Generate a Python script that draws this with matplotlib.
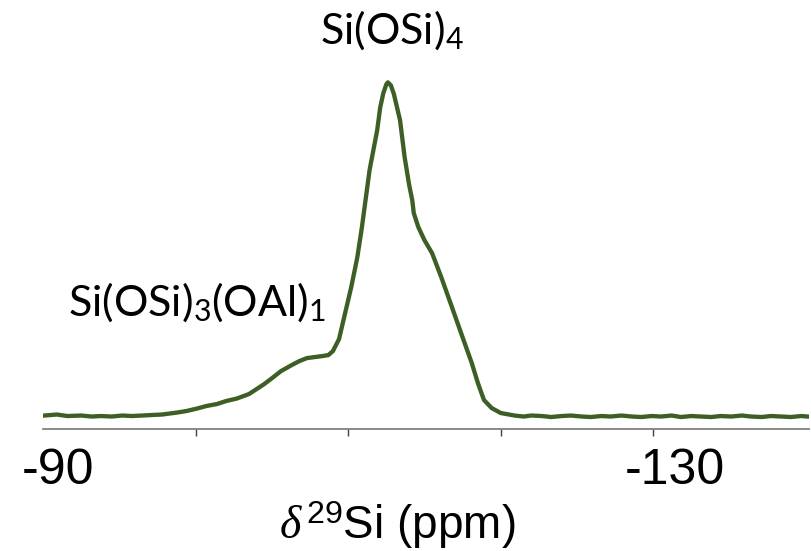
import matplotlib
matplotlib.use("Agg")
import matplotlib.pyplot as plt
from matplotlib import font_manager
from matplotlib.transforms import ScaledTranslation


def have_font(name):
    try:
        font_manager.findfont(name, fallback_to_default=False)
        return True
    except Exception:
        return False


sans = "Liberation Sans Narrow" if have_font("Liberation Sans Narrow") else "Liberation Sans"
label_font = "Lato"

plt.rcParams["mathtext.fontset"] = "custom"
plt.rcParams["mathtext.rm"] = sans
plt.rcParams["mathtext.it"] = "Liberation Serif:italic"
plt.rcParams["mathtext.sf"] = label_font

# 29Si NMR spectrum
shift_ppm = [-90.1, -90.9, -91.6, -92.5, -93.2, -93.8, -94.5, -95.2, -95.8, -96.5,
             -97.1, -97.8, -98.3, -98.8, -99.4, -100.1, -100.7, -101.4, -102.0, -102.7,
             -103.5, -104.0, -104.5, -105.1, -105.6, -106.3, -106.8, -107.3, -107.8, -108.3,
             -108.7, -109.0, -109.4, -109.8, -110.2, -110.6, -110.9, -111.4, -111.9, -112.1,
             -112.3, -112.5, -112.6, -112.8, -113.0, -113.4, -113.7, -114.0, -114.2, -114.3,
             -114.6, -115.0, -115.5, -116.1, -116.8, -117.4, -118.1, -118.5, -118.9, -119.4,
             -120.0, -120.9, -121.5, -122.0, -122.7, -123.3, -124.0, -124.6, -125.3, -125.9,
             -126.6, -127.2, -127.9, -128.6, -129.2, -129.9, -130.5, -131.2, -131.8, -132.5,
             -133.1, -133.8, -134.4, -135.1, -135.8, -136.4, -137.1, -137.7, -138.4, -139.0,
             -139.7, -140.1]
intensity = [1.5, 2.5, 1.0, 1.5, 0.5, 1.0, 0.5, 1.5, 1.0, 1.5,
             2.0, 2.5, 3.5, 4.5, 6.0, 8.5, 11.0, 13.0, 16.0, 18.5,
             23.0, 28.0, 33.0, 40.0, 46.0, 52.0, 56.0, 59.0, 60.0, 61.0,
             62.0, 66.0, 78.0, 104.0, 130.0, 160.0, 190.0, 247.0, 287.0, 310.0,
             324.0, 333.0, 335.0, 332.0, 323.0, 297.0, 260.0, 232.0, 217.0, 204.0,
             190.0, 177.0, 164.0, 140.0, 110.0, 84.0, 54.0, 34.0, 17.0, 9.0,
             4.0, 1.5, 0.5, 1.5, 1.0, 0.0, 1.0, 1.5, 0.5, 0.0,
             1.0, 0.5, 1.5, 0.5, 0.0, 1.0, 0.5, 1.5, 0.0, 1.0,
             0.5, 0.0, 1.0, 0.5, 1.5, 0.5, 0.0, 1.0, 0.5, 0.0,
             1.0, 0.5]

tick_ppm = [-90, -100, -110, -120, -130]
tick_text = ["-90", "", "", "", "-130"]

fig = plt.figure(figsize=(8.12, 5.51), dpi=100)
ax = fig.add_axes([43 / 812, 0.2223, (809 - 43) / 812, 0.65])

ax.plot(shift_ppm, intensity, color="#3d5f26", lw=3.1, solid_joinstyle="round")
ax.set_xlim(-90, -140.2)
ax.set_ylim(-11.5, 347)

for s in ["top", "right", "left"]:
    ax.spines[s].set_visible(False)
ax.spines["bottom"].set_color("#808080")
ax.spines["bottom"].set_linewidth(1.3)
ax.set_yticks([])

ax.set_xticks(tick_ppm)
ax.set_xticklabels(tick_text, fontsize=36, family=sans)
ax.tick_params(axis="x", direction="out", length=5, width=1, color="#404040", pad=9)
ax.xaxis.get_major_ticks()[0].tick1line.set_visible(False)

# labels sit a bit right of their ticks in the original
offsets = [15, 0, 0, 0, 22]
for lab, dx in zip(ax.get_xticklabels(), offsets):
    lab.set_transform(lab.get_transform() + ScaledTranslation(dx / 100, 0, fig.dpi_scale_trans))

ax.set_xlabel(r"$\delta\,^{\mathrm{29}}$Si (ppm)", fontsize=33, family=sans)
ax.xaxis.set_label_coords(0.462, -0.2)

peak = intensity.index(max(intensity))
ax.annotate(r"Si(OSi)$_\mathsf{4}$", xy=(shift_ppm[peak], intensity[peak]),
            xytext=(3, 28), textcoords="offset points", ha="center", va="baseline",
            fontsize=31, family=label_font)
ax.annotate(r"Si(OSi)$_\mathsf{3}$(OAl)$_\mathsf{1}$", xy=(-108.7, 62),
            xytext=(-1.5, 28.5), textcoords="offset points", ha="right", va="baseline",
            fontsize=31, family=label_font)

fig.savefig("out.png", dpi=100)
